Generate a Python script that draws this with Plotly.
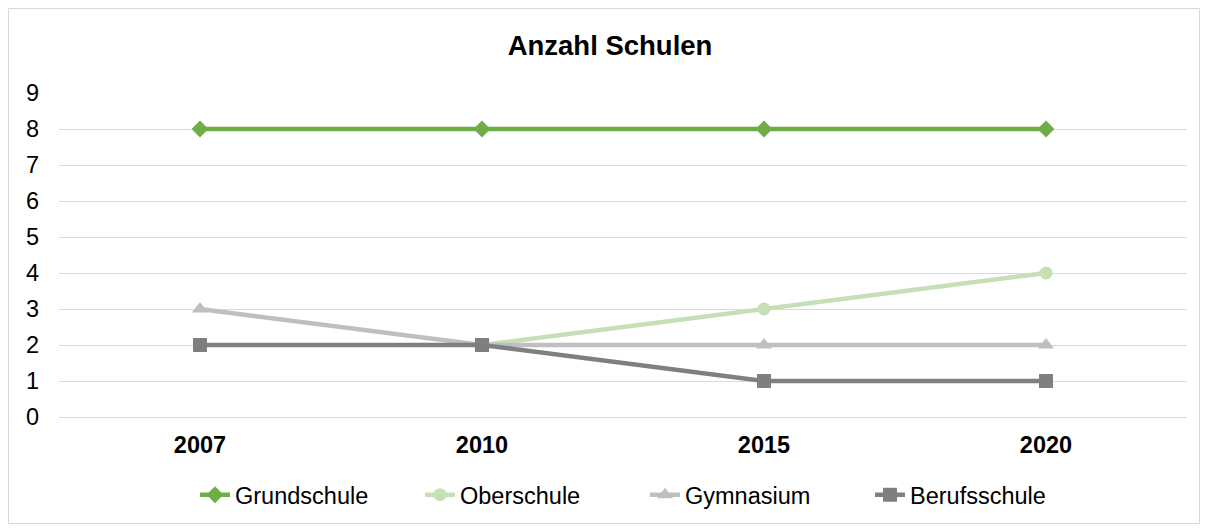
import plotly.graph_objects as go

years = ["2007", "2010", "2015", "2020"]
grundschule = [8, 8, 8, 8]
oberschule = [None, 2, 3, 4]
gymnasium = [3, 2, 2, 2]
berufsschule = [2, 2, 1, 1]

series = [
    ("Grundschule", grundschule, "#70ad47", "diamond", 13),
    ("Oberschule", oberschule, "#c5e0b4", "circle", 13),
    ("Gymnasium", gymnasium, "#bfbfbf", "triangle-up", 14),
    ("Berufsschule", berufsschule, "#7f7f7f", "square", 14),
]

fig = go.Figure()
for name, vals, color, sym, size in series:
    fig.add_trace(go.Scatter(
        x=years, y=vals, name=name, mode="lines+markers",
        line=dict(color=color, width=4.5),
        marker=dict(symbol=sym, size=size, color=color, line=dict(width=0)),
        connectgaps=False,
    ))

OFF = 8  # page body margin
W, H = 1204, 522
# plot area in window pixels: x 59..1187, y 93..417
L = 59 - OFF
T = 93 - OFF
R = W - (1187 - OFF)
B = H - (417 - OFF)
pw, ph = W - L - R, H - T - B

def px_x(p):
    return (p - OFF - L) / pw

def px_y(p):
    return (H - B - (p - OFF)) / ph

fig.update_layout(
    width=W, height=H,
    margin=dict(l=L, r=R, t=T, b=B),
    paper_bgcolor="white", plot_bgcolor="white",
    font=dict(family="Liberation Sans, Arial, sans-serif", color="#000000", size=23.5),
    title=dict(text="<b>Anzahl Schulen</b>", x=0.5, xanchor="center",
               y=1 - (45 - OFF) / H, yanchor="middle", font=dict(size=27.5, color="#000000")),
    showlegend=True,
    legend=dict(orientation="h", x=px_x(645), xanchor="center",
                y=px_y(495), yanchor="middle", font=dict(size=23.5),
                bgcolor="rgba(0,0,0,0)", itemclick=False, entrywidth=180),
    xaxis=dict(type="category", range=[-0.5, 3.5], showgrid=False, zeroline=False,
               showline=True, linecolor="#d9d9d9", linewidth=1, ticks="",
               tickfont=dict(size=23.5, color="#000000", weight="bold"),
               ticklabelstandoff=7),
    yaxis=dict(range=[0, 9], dtick=1, showgrid=True, gridcolor="#d9d9d9", gridwidth=1,
               zeroline=False, showline=False, ticks="",
               tickfont=dict(size=23.5, color="#000000"), ticklabelstandoff=19),
    shapes=[dict(type="rect", xref="paper", yref="paper",
                 x0=px_x(8.5), x1=px_x(1199.5), y0=px_y(523.5), y1=px_y(8.5),
                 line=dict(color="#d9d9d9", width=1), fillcolor="rgba(0,0,0,0)",
                 layer="below")],
)

fig.write_html("out.html")
